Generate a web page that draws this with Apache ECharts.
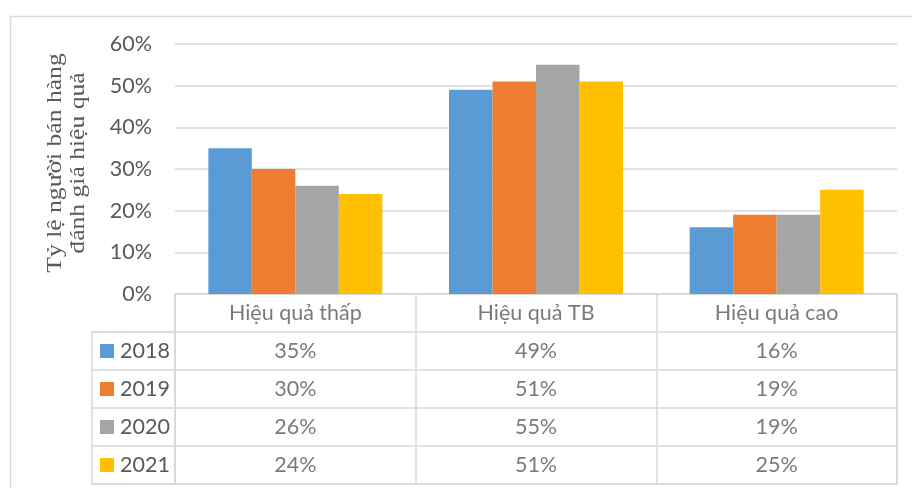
<!DOCTYPE html>
<html>
<head>
<meta charset="utf-8">
<script src="https://cdn.jsdelivr.net/npm/echarts@6/dist/echarts.min.js"></script>
<style>
  html, body { margin:0; padding:0; background:#fff; }
  #main { width:912px; height:488px; }
</style>
</head>
<body>
<div id="main"></div>
<script>
// du lieu
var categories = ['Hiệu quả thấp', 'Hiệu quả TB', 'Hiệu quả cao'];
var years = ['2018', '2019', '2020', '2021'];
var v2018 = [35, 49, 16];
var v2019 = [30, 51, 19];
var v2020 = [26, 55, 19];
var v2021 = [24, 51, 25];
var yTicks = [0, 10, 20, 30, 40, 50, 60];
var yTitle = 'Tỷ lệ người bán hàng\nđánh giá hiệu quả';

var values = [v2018, v2019, v2020, v2021];
var colors = ['#5b9bd5', '#ed7d31', '#a5a5a5', '#ffc000'];
var textColor = '#595959';
var lineColor = '#d9d9d9';
var font = 'Lato';
var fsize = 21.5;

var myChart = echarts.init(document.getElementById('main'));

// cac cot
var Series = [];
for (var i = 0; i < years.length; i++) {
    Series.push({
        name: years[i],
        type: 'bar',
        xAxisIndex: 0,
        yAxisIndex: 0,
        barGap: '0%',
        barCategoryGap: '27.7%',
        itemStyle: { color: colors[i] },
        data: values[i]
    });
}

// chu trong bang: dong tieu de + gia tri
var cells = [];
for (var c = 0; c < categories.length; c++) {
    cells.push({ value: [c, 0], name: categories[c] });
    for (var r = 0; r < years.length; r++) {
        cells.push({ value: [c, r + 1], name: values[r][c] + '%' });
    }
}
Series.push({
    type: 'scatter',
    xAxisIndex: 1,
    yAxisIndex: 1,
    symbolSize: 1,
    itemStyle: { color: 'transparent' },
    label: {
        show: true,
        position: 'inside',
        formatter: '{b}',
        color: textColor,
        fontFamily: font,
        fontSize: fsize
    },
    data: cells
});

// chu thich nam (o vuong mau)
var richLegend = { t: { color: textColor, fontFamily: font, fontSize: fsize, padding: [0, 0, 0, 6] } };
for (var k = 0; k < colors.length; k++) {
    richLegend['s' + k] = { width: 14, height: 14, backgroundColor: colors[k] };
}

var option = {
    animation: false,
    graphic: [
        {
            type: 'rect',
            left: 8,
            top: 14,
            shape: { width: 920, height: 500 },
            style: { fill: 'none', stroke: lineColor, lineWidth: 1.5 }
        },
        {
            // tieu de truc tung (xoay 90 do)
            type: 'text',
            x: 67,
            y: 163,
            rotation: Math.PI / 2,
            scaleX: 1.28,
            style: {
                text: yTitle,
                fill: textColor,
                font: '20px "Liberation Serif"',
                lineHeight: 23,
                align: 'center',
                verticalAlign: 'middle'
            }
        }
    ],
    grid: [
        { left: 175, right: 15, top: 44, bottom: 194 },
        { left: 175, right: 15, top: 294, bottom: 4, show: true, borderColor: lineColor, borderWidth: 1.5 },
        { left: 92, width: 83, top: 332, bottom: 4, show: true, borderColor: lineColor, borderWidth: 1.5 }
    ],
    xAxis: [
        {
            gridIndex: 0, type: 'category', data: categories,
            axisLine: { show: false }, axisTick: { show: false }, axisLabel: { show: false }
        },
        {
            gridIndex: 1, type: 'category', data: categories,
            axisLine: { show: false }, axisTick: { show: false }, axisLabel: { show: false },
            splitLine: { show: true, interval: 0, lineStyle: { color: lineColor, width: 1.5 } }
        },
        {
            gridIndex: 2, type: 'value', show: false
        }
    ],
    yAxis: [
        {
            gridIndex: 0, type: 'value', min: 0, max: 60, interval: 10,
            axisLine: { show: false }, axisTick: { show: false },
            axisLabel: {
                margin: 23, color: textColor, fontFamily: font, fontSize: fsize,
                formatter: function (v) { return yTicks.indexOf(v) >= 0 ? v + '%' : ''; }
            },
            splitLine: { lineStyle: { color: lineColor, width: 1.5 } }
        },
        {
            gridIndex: 1, type: 'category', inverse: true,
            data: [''].concat(years),
            axisLine: { show: false }, axisTick: { show: false }, axisLabel: { show: false },
            splitLine: { show: true, interval: 0, lineStyle: { color: lineColor, width: 1.5 } }
        },
        {
            gridIndex: 2, type: 'category', inverse: true, data: years,
            axisLine: { show: false }, axisTick: { show: false },
            axisLabel: {
                inside: true, margin: 8, interval: 0,
                formatter: function (v, idx) { return '{s' + idx + '|}{t|' + v + '}'; },
                rich: richLegend
            },
            splitLine: { show: true, interval: 0, lineStyle: { color: lineColor, width: 1.5 } }
        }
    ],
    series: Series
};

myChart.setOption(option);
</script>
</body>
</html>
